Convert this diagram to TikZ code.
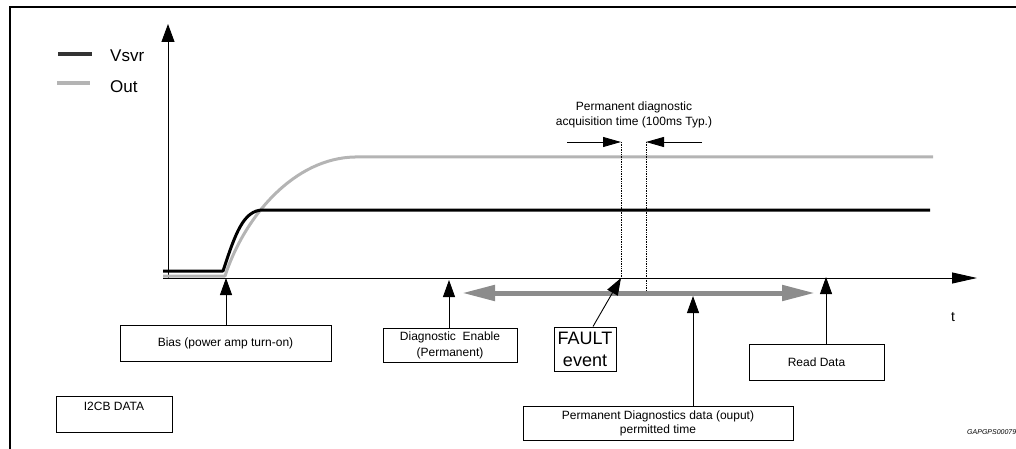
\documentclass[tikz,border=0pt]{standalone}
\usepackage{fontspec}
\setmainfont{Liberation Sans}
\usetikzlibrary{arrows.meta}
\definecolor{outgray}{HTML}{B4B4B4}
\definecolor{bandgray}{HTML}{8C8C8C}
\begin{document}
\begin{tikzpicture}[x=1pt,y=-1pt,
  box/.style={draw, line width=1pt, inner sep=0pt, align=center, font=\fontsize{12}{14}\selectfont},
  ptr/.style={line width=0.9pt, -{Triangle[length=17pt,width=12pt]}},
  dimarrow/.style={line width=0.8pt, -{Triangle[length=18pt,width=10pt]}},
  guide/.style={densely dotted, line width=0.7pt},
  axisline/.style={line width=0.9pt},
  vsvrline/.style={line width=3pt, black, line join=round},
  outline/.style={line width=3pt, outgray, line join=round},
  band/.style={line width=5pt, bandgray, {Triangle[length=33pt,width=15pt]}-{Triangle[length=33pt,width=15pt]}},
  small/.style={font=\fontsize{12}{15}\selectfont, align=center, inner sep=0pt}]
\useasboundingbox (0,0) rectangle (1016,449);
\clip (0,0) rectangle (1016,449);

% frame
\draw[line width=2.5pt] (10,449) -- (10,7) -- (1016,7);

% legend
\draw[line width=3.5pt, black!80] (58,54) -- (92,54);
\node[anchor=west, inner sep=0pt, font=\fontsize{17}{19}\selectfont] (lv) at (110,56) {Vsvr};
\draw[line width=3.5pt, outgray] (57,83) -- (90,83);
\node[anchor=west, inner sep=0pt, font=\fontsize{17}{19}\selectfont] (lo) at (110,87) {Out};

% axes
\coordinate (O) at (168,278);
\coordinate (xend) at (977,278);
\coordinate (yend) at (168,24);
\draw[axisline, -{Triangle[length=25pt,width=11pt]}] (163,278) -- (xend);
\draw[axisline, -{Triangle[length=18pt,width=13pt]}] (O) -- (yend);
\node[inner sep=0pt, font=\fontsize{14}{16}\selectfont] (tlab) at (953,317) {t};

% signals
\draw[outline] (163,276) -- (225,276) .. controls (245,215) and (295,158) .. (355,157) -- (933,157);
\draw[vsvrline] (163,271) -- (223,271) .. controls (235,235) and (243,210) .. (263,210) -- (930,210);

% acquisition time
\coordinate (fa) at (621,142);
\coordinate (fb) at (646,142);
\coordinate (tFault) at (621,278);
\coordinate (fbEnd) at (646,290);
\draw[guide] (fa) -- (tFault);
\draw[guide] (fb) -- (fbEnd);
\coordinate (dl) at (567,142);
\coordinate (dr) at (702,142);
\draw[dimarrow] (dl) -- (fa);
\draw[dimarrow] (dr) -- (fb);
\node[small] (dimlbl) at (634,115) {Permanent diagnostic\\acquisition time (100ms Typ.)};

% permitted window
\coordinate (gL) at (462,293);
\coordinate (gR) at (815,293);
\draw[band] (gL) -- (gR);

% event markers on the axis
\coordinate (tBias) at (226,278);
\coordinate (tDiag) at (449,280);
\coordinate (tPD) at (693,296);
\coordinate (tRead) at (826,277);

% boxes
\node[box, minimum width=211pt, minimum height=36pt] (bias) at (225.5,343) {Bias (power amp turn-on)};
\node[box, minimum width=134pt, minimum height=34pt, font=\fontsize{12}{16}\selectfont] (diag) at (450,345) {Diagnostic\ \ Enable\\(Permanent)};
\node[box, minimum width=62pt, minimum height=44pt, font=\fontsize{18}{22}\selectfont] (fault) at (585,349) {FAULT\\event};
\node[box, minimum width=135pt, minimum height=36pt] (read) at (816.5,362) {Read Data};
\node[box, minimum width=270pt, minimum height=34pt] (pd) at (658,423) {Permanent Diagnostics data (ouput)\\permitted time};
\node[draw, line width=1pt, minimum width=116pt, minimum height=36pt, inner sep=0pt] (i2cb) at (114,414) {};
\node[anchor=north, inner sep=0pt, font=\fontsize{12}{14}\selectfont] (i2cblbl) at ([yshift=-6pt]i2cb.north) {I2CB DATA};

% pointers
\draw[ptr] (bias.north -| tBias) -- (tBias);
\draw[ptr] (diag.north -| tDiag) -- (tDiag);
\draw[ptr] ([xshift=8pt]fault.north) -- (tFault);
\draw[ptr] (pd.north -| tPD) -- (tPD);
\draw[ptr] (read.north -| tRead) -- (tRead);

% drawing code
\node[anchor=west, inner sep=0pt, font=\fontsize{7}{8}\selectfont\itshape] (code) at (967,432) {GAPGPS00079};
\end{tikzpicture}
\end{document}
